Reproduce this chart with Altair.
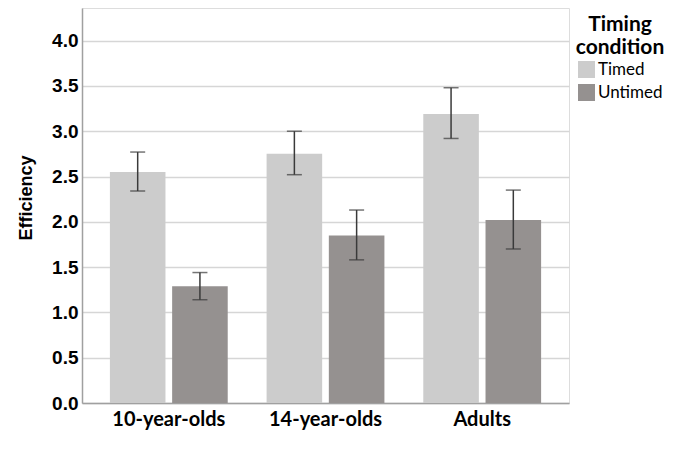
import altair as alt
import pandas as pd

groups = ["10-year-olds", "14-year-olds", "Adults"]
conditions = ["Timed", "Untimed"]
timed_mean = [2.55, 2.75, 3.19]
timed_low = [2.34, 2.52, 2.92]
timed_high = [2.77, 3.00, 3.48]
untimed_mean = [1.29, 1.85, 2.02]
untimed_low = [1.14, 1.58, 1.70]
untimed_high = [1.44, 2.13, 2.35]

rows = []
for i, g in enumerate(groups):
    rows.append({"group": g, "cond": "Timed", "mean": timed_mean[i], "lo": timed_low[i], "hi": timed_high[i]})
    rows.append({"group": g, "cond": "Untimed", "mean": untimed_mean[i], "lo": untimed_low[i], "hi": untimed_high[i]})
df = pd.DataFrame(rows)

xenc = alt.X("group:N", sort=groups, title=None,
             scale=alt.Scale(paddingInner=0.248, paddingOuter=0.178),
             axis=alt.Axis(labelAngle=0, labelFont="Lato", labelFontWeight="bold",
                           labelFontSize=20, labelColor="#000000", labelPadding=6,
                           ticks=False, domainColor="#a0a0a0", domainWidth=1.5))
xoff = alt.XOffset("cond:N", sort=conditions,
                   scale=alt.Scale(paddingInner=0.107, paddingOuter=0))
yscale = alt.Scale(domain=[0, 4.36], nice=False, zero=True)

bars = alt.Chart(df).mark_bar().encode(
    x=xenc,
    xOffset=xoff,
    y=alt.Y("mean:Q", scale=yscale, title="Efficiency",
            axis=alt.Axis(values=[0, 0.5, 1, 1.5, 2, 2.5, 3, 3.5, 4], format=".1f",
                          labelFont="Liberation Sans", labelFontWeight="bold",
                          labelFontSize=19, labelColor="#000000", labelPadding=4,
                          ticks=False, domainColor="#a0a0a0", domainWidth=1.5,
                          grid=True, gridColor="#d6d6d6", gridWidth=1.5,
                          titleFont="Liberation Sans", titleFontWeight="bold",
                          titleFontSize=18, titleColor="#000000",
                          titleX=-51, titleY=189.5, titleAngle=270,
                          titleAlign="center", titleBaseline="alphabetic")),
    color=alt.Color("cond:N", sort=conditions,
                    scale=alt.Scale(domain=conditions, range=["#cccccc", "#959190"]),
                    legend=alt.Legend(title=["Timing", "condition"], orient="none",
                                      legendX=494, legendY=6,
                                      titleFont="Lato", titleFontWeight="bold",
                                      titleFontSize=21, titleColor="#000000",
                                      titleAlign="center", titleAnchor="middle",
                                      titleLineHeight=23, titlePadding=3,
                                      labelFont="Lato", labelFontSize=17,
                                      labelColor="#000000", labelOffset=3,
                                      symbolType="square", symbolSize=289,
                                      symbolStrokeWidth=0, rowPadding=5, padding=0)),
)

err = alt.Chart(df).mark_rule(color="#3a3a3a", strokeWidth=1.5).encode(
    x=alt.X("group:N", sort=groups), xOffset=xoff,
    y=alt.Y("lo:Q", scale=yscale), y2="hi:Q")
caps_hi = alt.Chart(df).mark_tick(color="#3a3a3a", thickness=1.5, size=15, orient="horizontal").encode(
    x=alt.X("group:N", sort=groups), xOffset=xoff, y=alt.Y("hi:Q", scale=yscale))
caps_lo = alt.Chart(df).mark_tick(color="#3a3a3a", thickness=1.5, size=15, orient="horizontal").encode(
    x=alt.X("group:N", sort=groups), xOffset=xoff, y=alt.Y("lo:Q", scale=yscale))

chart = alt.layer(bars, err, caps_hi, caps_lo).properties(
    width=487, height=395,
    autosize=alt.AutoSizeParams(type="none"),
    padding={"left": 74, "top": 0, "right": 100, "bottom": 50},
).configure_view(stroke=None).configure(background="white")

chart.save("out.html", embed_options={"renderer": "svg", "actions": False})
